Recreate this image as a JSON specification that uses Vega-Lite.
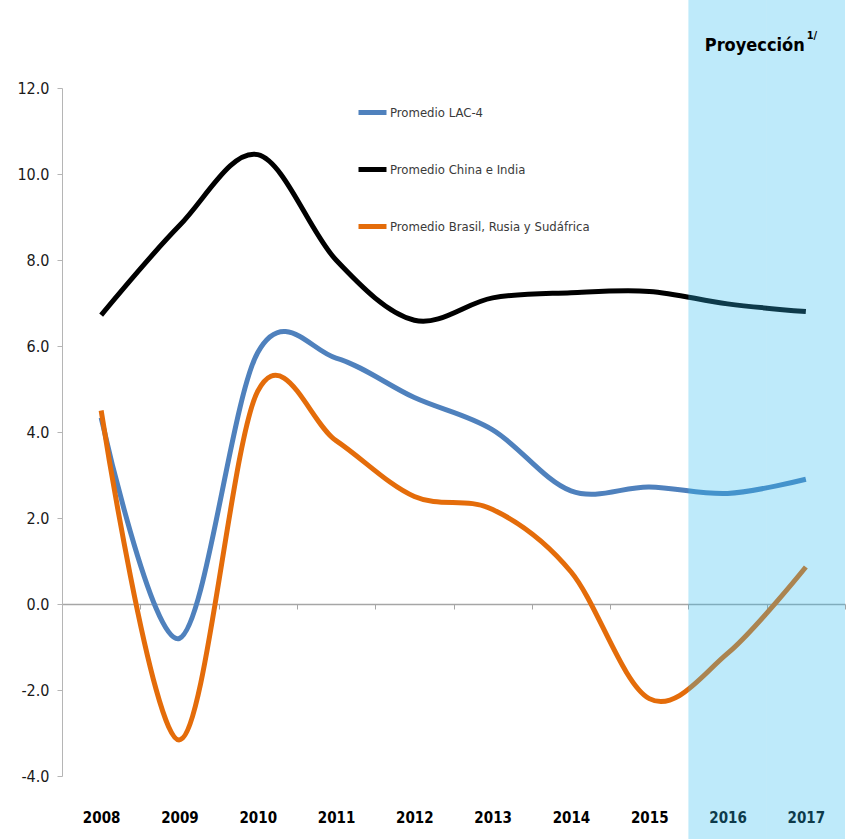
{
  "$schema": "https://vega.github.io/schema/vega-lite/v6.json",
  "width": 783,
  "height": 688,
  "autosize": {"type": "none"},
  "padding": {"left": 62, "top": 88, "right": 5, "bottom": 63},
  "background": "white",
  "config": {
    "view": {"stroke": null},
    "font": "Liberation Sans Narrow, DejaVu Sans Condensed, Liberation Sans"
  },
  "datasets": {
    "series": [
      {"year": "2008", "serie": "Promedio LAC-4", "value": 4.33},
      {"year": "2009", "serie": "Promedio LAC-4", "value": -0.8},
      {"year": "2010", "serie": "Promedio LAC-4", "value": 5.85},
      {"year": "2011", "serie": "Promedio LAC-4", "value": 5.72},
      {"year": "2012", "serie": "Promedio LAC-4", "value": 4.8},
      {"year": "2013", "serie": "Promedio LAC-4", "value": 4.05},
      {"year": "2014", "serie": "Promedio LAC-4", "value": 2.63},
      {"year": "2015", "serie": "Promedio LAC-4", "value": 2.72},
      {"year": "2016", "serie": "Promedio LAC-4", "value": 2.57},
      {"year": "2017", "serie": "Promedio LAC-4", "value": 2.9},
      {"year": "2008", "serie": "Promedio China e India", "value": 6.72},
      {"year": "2009", "serie": "Promedio China e India", "value": 8.8},
      {"year": "2010", "serie": "Promedio China e India", "value": 10.45},
      {"year": "2011", "serie": "Promedio China e India", "value": 8.0},
      {"year": "2012", "serie": "Promedio China e India", "value": 6.6},
      {"year": "2013", "serie": "Promedio China e India", "value": 7.12},
      {"year": "2014", "serie": "Promedio China e India", "value": 7.24},
      {"year": "2015", "serie": "Promedio China e India", "value": 7.27},
      {"year": "2016", "serie": "Promedio China e India", "value": 6.98},
      {"year": "2017", "serie": "Promedio China e India", "value": 6.8},
      {"year": "2008", "serie": "Promedio Brasil, Rusia y Sudáfrica", "value": 4.5},
      {"year": "2009", "serie": "Promedio Brasil, Rusia y Sudáfrica", "value": -3.16},
      {"year": "2010", "serie": "Promedio Brasil, Rusia y Sudáfrica", "value": 4.95},
      {"year": "2011", "serie": "Promedio Brasil, Rusia y Sudáfrica", "value": 3.8},
      {"year": "2012", "serie": "Promedio Brasil, Rusia y Sudáfrica", "value": 2.5},
      {"year": "2013", "serie": "Promedio Brasil, Rusia y Sudáfrica", "value": 2.2},
      {"year": "2014", "serie": "Promedio Brasil, Rusia y Sudáfrica", "value": 0.75},
      {"year": "2015", "serie": "Promedio Brasil, Rusia y Sudáfrica", "value": -2.2},
      {"year": "2016", "serie": "Promedio Brasil, Rusia y Sudáfrica", "value": -1.15},
      {"year": "2017", "serie": "Promedio Brasil, Rusia y Sudáfrica", "value": 0.86}
    ],
    "proj": [{"year": "2016"}, {"year": "2017"}]
  },
  "layer": [
    {
      "data": {"name": "series"},
      "mark": {"type": "line", "interpolate": "cardinal", "strokeWidth": 5},
      "encoding": {
        "x": {
          "field": "year",
          "type": "nominal",
          "bandPosition": 0.5,
          "scale": {"type": "band", "paddingInner": 0, "paddingOuter": 0},
          "axis": {
            "orient": "bottom",
            "offset": -172,
            "title": null,
            "grid": false,
            "domainColor": "#A6A6A6",
            "domainWidth": 1.5,
            "tickColor": "#A6A6A6",
            "tickSize": 5,
            "tickBand": "extent",
            "labelAngle": 0,
            "labelBaseline": "top",
            "labelPadding": 201,
            "labelFontSize": 15,
            "labelFontWeight": "bold",
            "labelColor": "#000000"
          }
        },
        "y": {
          "field": "value",
          "type": "quantitative",
          "scale": {"domain": [-4, 12], "nice": false, "zero": false},
          "axis": {
            "title": null,
            "grid": false,
            "values": [-4, -2, 0, 2, 4, 6, 8, 10, 12],
            "labelExpr": "replace(format(datum.value, '.1f'), '\u2212', '-')",
            "domainColor": "#B5B5B5",
            "tickColor": "#B5B5B5",
            "tickSize": 5,
            "labelPadding": 8,
            "labelFontSize": 16,
            "labelColor": "#1a1a1a"
          }
        },
        "color": {
          "field": "serie",
          "type": "nominal",
          "scale": {
            "domain": ["Promedio LAC-4", "Promedio China e India", "Promedio Brasil, Rusia y Sudáfrica"],
            "range": ["#4F81BD", "#000000", "#E46C0A"]
          },
          "legend": {
            "orient": "none",
            "legendX": 294,
            "legendY": 8,
            "title": null,
            "padding": 0,
            "symbolType": "stroke",
            "symbolSize": 784,
            "symbolStrokeWidth": 5,
            "labelFontSize": 13,
            "labelColor": "#3a3a3a",
            "labelOffset": 1,
            "labelLimit": 400,
            "rowPadding": 30
          }
        }
      }
    },
    {
      "data": {"name": "proj"},
      "mark": {"type": "rect", "color": "#2DBBEF", "opacity": 0.31},
      "encoding": {
        "x": {"field": "year", "type": "nominal"},
        "y": {"datum": 14.2},
        "y2": {"datum": -5.6}
      }
    },
    {
      "data": {"values": [{}]},
      "mark": {"type": "text", "text": "Proyección", "fontSize": 18, "fontWeight": "bold", "align": "right", "baseline": "middle", "color": "#000000", "dx": 38},
      "encoding": {
        "x": {"datum": "2016", "bandPosition": 1},
        "y": {"datum": 12.98}
      }
    },
    {
      "data": {"values": [{}]},
      "mark": {"type": "text", "text": "1/", "fontSize": 11, "fontWeight": "bold", "align": "left", "baseline": "middle", "color": "#000000", "dx": 40},
      "encoding": {
        "x": {"datum": "2016", "bandPosition": 1},
        "y": {"datum": 13.22}
      }
    }
  ]
}
